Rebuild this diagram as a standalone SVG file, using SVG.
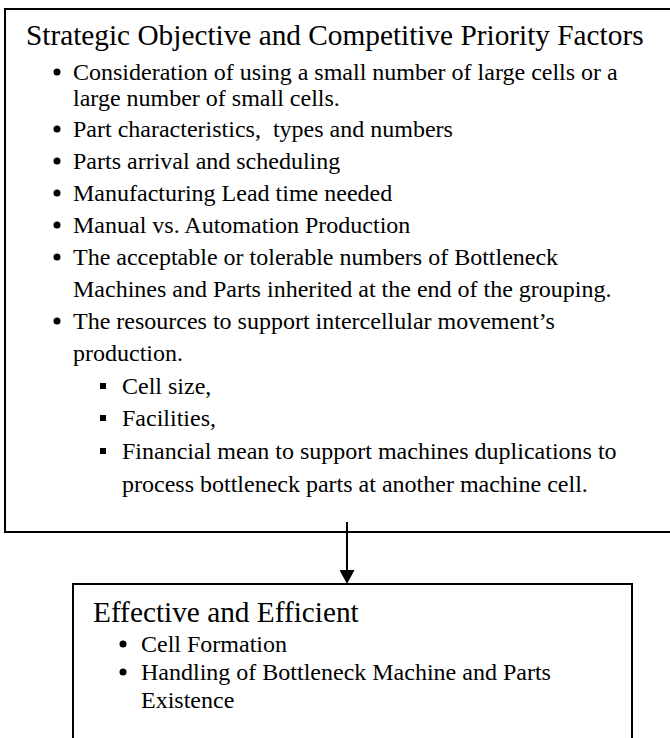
<svg xmlns="http://www.w3.org/2000/svg" width="670" height="738" viewBox="0 0 670 738">
<style>
.box{fill:#fff;stroke:#000;stroke-width:2}
.t{font-family:"Liberation Serif","Times New Roman",serif;fill:#000}
.h{font-size:29.3px}
.b{font-size:24px}
.dot{fill:#000}
.conn{stroke:#000;stroke-width:2;fill:none}
</style>
<defs>
<marker id="ah" viewBox="0 0 14 15" refX="0" refY="7.5" markerWidth="14" markerHeight="15" markerUnits="userSpaceOnUse" orient="auto">
<path d="M0,0 L14,7.5 L0,15 z" fill="#000"/>
</marker>
</defs>
<rect width="670" height="738" fill="#fff"/>
<g id="node-strategic">
<rect class="box" x="5" y="9" width="700" height="523"/>
<text class="t h" x="26" y="45">Strategic Objective and Competitive Priority Factors</text>
<g class="t b">
<circle class="dot" cx="57" cy="72" r="3.5"/>
<text x="73" y="80">Consideration of using a small number of large cells or a</text>
<text x="73" y="106">large number of small cells.</text>
<circle class="dot" cx="57" cy="129" r="3.5"/>
<text x="73" y="137" xml:space="preserve">Part characteristics,  types and numbers</text>
<circle class="dot" cx="57" cy="161" r="3.5"/>
<text x="73" y="169">Parts arrival and scheduling</text>
<circle class="dot" cx="57" cy="193" r="3.5"/>
<text x="73" y="201">Manufacturing Lead time needed</text>
<circle class="dot" cx="57" cy="225" r="3.5"/>
<text x="73" y="233">Manual vs. Automation Production</text>
<circle class="dot" cx="57" cy="257" r="3.5"/>
<text x="73" y="265">The acceptable or tolerable numbers of Bottleneck</text>
<text x="73" y="297">Machines and Parts inherited at the end of the grouping.</text>
<circle class="dot" cx="57" cy="321" r="3.5"/>
<text x="73" y="329">The resources to support intercellular movement’s</text>
<text x="73" y="361">production.</text>
<rect class="dot" x="100" y="383" width="6" height="6"/>
<text x="122" y="394">Cell size,</text>
<rect class="dot" x="100" y="415" width="6" height="6"/>
<text x="122" y="426">Facilities,</text>
<rect class="dot" x="100" y="448" width="6" height="6"/>
<text x="122" y="459">Financial mean to support machines duplications to</text>
<text x="122" y="492">process bottleneck parts at another machine cell.</text>
</g>
</g>
<g id="node-effective">
<rect class="box" x="73" y="584" width="559" height="170"/>
<text class="t h" x="93" y="622">Effective and Efficient</text>
<g class="t b">
<circle class="dot" cx="123" cy="644" r="3.5"/>
<text x="141" y="652">Cell Formation</text>
<circle class="dot" cx="123" cy="672" r="3.5"/>
<text x="141" y="680">Handling of Bottleneck Machine and Parts</text>
<text x="141" y="708">Existence</text>
</g>
</g>
<g id="connectors">
<line class="conn" x1="347" y1="522" x2="347" y2="570" marker-end="url(#ah)"/>
</g>
</svg>
